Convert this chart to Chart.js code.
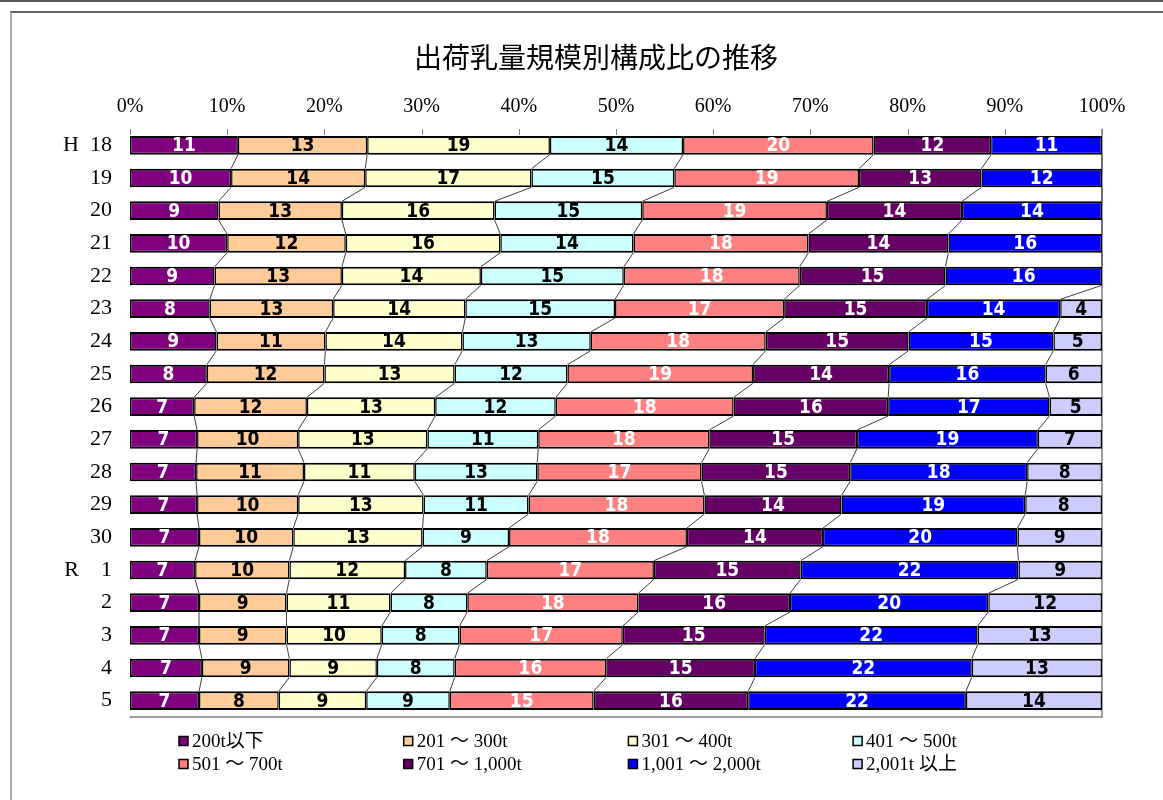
<!DOCTYPE html>
<html><head><meta charset="utf-8">
<script src="https://cdn.jsdelivr.net/npm/chart.js@4"></script>
<style>
html,body{margin:0;padding:0;background:#fff;}
#wrap{position:relative;width:1163px;height:800px;overflow:hidden;background:#fff;}
#topline{position:absolute;left:0;top:0;width:1163px;height:2px;background:#555;}
#box{position:absolute;left:10px;top:11px;width:1300px;height:900px;border-left:2px solid #aaa;border-top:2px solid #666;}
canvas{position:absolute;left:0;top:0;}
</style></head><body>
<div id="wrap"><div id="topline"></div><div id="box"></div><canvas id="c" width="1163" height="800"></canvas></div>
<script>
const chartTitle = '出荷乳量規模別構成比の推移';
const categories = ['H  18','19','20','21','22','23','24','25','26','27','28','29','30','R\u30001','2','3','4','5'];
const seriesNames = ['200t以下','201 ～ 300t','301 ～ 400t','401 ～ 500t','501 ～ 700t','701 ～ 1,000t','1,001 ～ 2,000t','2,001t 以上'];
const seriesColors = ['#800080','#FFCC99','#FFFFCC','#CCFFFF','#FF8080','#660066','#0000FF','#CCCCFF'];
const labelColors = ['#fff','#000','#000','#000','#fff','#fff','#fff','#000'];
const tickValues = [0,10,20,30,40,50,60,70,80,90,100];

const s200   = [11.1,10.4, 9.1,10.0, 8.7, 8.2, 8.9, 7.9, 6.6, 6.9, 6.8, 6.9, 7.1, 6.7, 7.1, 7.1, 7.4, 7.1];
const s300   = [13.3,13.8,12.7,12.2,13.1,12.7,11.2,12.1,11.6,10.4,11.1,10.4, 9.7, 9.7, 9.0, 9.0, 9.0, 8.2];
const s400   = [18.8,17.1,15.7,15.9,14.3,13.6,14.1,13.4,13.2,13.3,11.4,12.9,13.3,11.9,10.7, 9.8, 9.0, 9.0];
const s500   = [13.7,14.7,15.2,13.7,14.7,15.4,13.2,11.6,12.4,11.4,12.6,10.8, 8.9, 8.4, 7.9, 8.0, 8.0, 8.6];
const s700   = [19.6,19.0,19.0,18.0,18.1,17.4,18.0,19.1,18.3,17.6,16.9,18.1,18.3,17.2,17.6,16.8,15.6,14.8];
const s1000  = [12.1,12.6,13.9,14.4,15.0,14.7,14.7,14.0,15.9,15.2,15.3,14.1,14.0,15.1,15.6,14.6,15.3,15.9];
const s2000  = [11.4,12.4,14.4,15.8,16.1,13.7,14.9,16.1,16.6,18.6,18.2,18.9,20.0,22.4,20.4,21.9,22.3,22.4];
const sOver  = [null,null,null,null,null, 4.3, 5.0, 5.8, 5.4, 6.6, 7.7, 7.9, 8.7, 8.6,11.7,12.8,13.4,14.0];
const seriesData = [s200,s300,s400,s500,s700,s1000,s2000,sOver];

const serif = "'Liberation Serif','Noto Sans CJK JP',serif";

const extras = {
  id: 'extras',
  beforeDatasetsDraw(chart) {
    const ctx = chart.ctx, a = chart.chartArea, xs = chart.scales.x;
    ctx.save();
    ctx.fillStyle = '#fff';
    ctx.fillRect(a.left, a.top, a.right - a.left, a.bottom - a.top);
    ctx.strokeStyle = '#808080';
    ctx.lineWidth = 1;
    tickValues.forEach(v => {
      const px = Math.round(xs.getPixelForValue(v)) + 0.5;
      ctx.beginPath(); ctx.moveTo(px, a.top); ctx.lineTo(px, a.top + 6); ctx.stroke();
    });
    ctx.strokeStyle = '#808080';
    ctx.lineWidth = 1.5;
    ctx.beginPath();
    ctx.moveTo(a.right, a.top); ctx.lineTo(a.right, a.bottom); ctx.lineTo(a.left, a.bottom);
    ctx.stroke();
    ctx.restore();
  },
  afterDatasetsDraw(chart) {
    const ctx = chart.ctx, xs = chart.scales.x;
    const meta0 = chart.getDatasetMeta(0);
    ctx.save();
    ctx.strokeStyle = '#404040';
    ctx.lineWidth = 1;
    for (let s = 0; s < seriesData.length - 1; s++) {
      for (let i = 0; i < categories.length - 1; i++) {
        let cA = 0, cB = 0;
        for (let k = 0; k <= s; k++) { cA += seriesData[k][i] || 0; cB += seriesData[k][i + 1] || 0; }
        const eA = meta0.data[i], eB = meta0.data[i + 1];
        const yA = eA.y + eA.height / 2, yB = eB.y - eB.height / 2;
        ctx.beginPath();
        ctx.moveTo(xs.getPixelForValue(cA), yA);
        ctx.lineTo(xs.getPixelForValue(cB), yB);
        ctx.stroke();
      }
    }
    ctx.font = "bold 19px 'Liberation Sans Narrow','DejaVu Sans Condensed',sans-serif";
    ctx.textAlign = 'center';
    ctx.textBaseline = 'middle';
    chart.data.datasets.forEach((ds, d) => {
      const meta = chart.getDatasetMeta(d);
      meta.data.forEach((el, i) => {
        const v = ds.data[i];
        if (v === null || v === undefined) return;
        const p = el.getProps(['x', 'base', 'y'], true);
        ctx.fillStyle = labelColors[d];
        ctx.fillText(String(Math.round(v)), (p.x + p.base) / 2, p.y + 1);
      });
    });
    ctx.restore();
  },
  afterDraw(chart) {
    const ctx = chart.ctx;
    ctx.save();
    ctx.fillStyle = '#000';
    ctx.font = "28px 'Noto Sans CJK JP',sans-serif";
    ctx.textAlign = 'center';
    ctx.textBaseline = 'middle';
    ctx.fillText(chartTitle, 596, 57);
    ctx.font = '19px ' + serif;
    ctx.textAlign = 'left';
    seriesNames.forEach((name, i) => {
      const col = i % 4, row = Math.floor(i / 4);
      const sx = 179 + col * 224.7, sy = 741 + row * 23;
      ctx.fillStyle = seriesColors[i];
      ctx.fillRect(sx, sy - 4.5, 9, 9);
      ctx.strokeStyle = '#000';
      ctx.lineWidth = 1.5;
      ctx.strokeRect(sx, sy - 4.5, 9, 9);
      ctx.fillStyle = '#000';
      ctx.fillText(name, sx + 13, sy + 1);
    });
    ctx.restore();
  }
};

new Chart(document.getElementById('c'), {
  type: 'bar',
  data: {
    labels: categories,
    datasets: seriesData.map((arr, i) => ({
      label: seriesNames[i],
      data: arr,
      backgroundColor: seriesColors[i],
      borderColor: '#000',
      borderWidth: {top: 2, bottom: 2, left: 1.5, right: 1.5},
      borderSkipped: false,
      barPercentage: 0.57,
      categoryPercentage: 1.0
    }))
  },
  options: {
    indexAxis: 'y',
    responsive: false,
    animation: false,
    devicePixelRatio: 1,
    layout: {padding: {top: 0, left: 0, right: 61, bottom: 83}},
    plugins: {legend: {display: false}, title: {display: false}, tooltip: {enabled: false}},
    scales: {
      x: {
        position: 'top', stacked: true, min: 0, max: 100,
        ticks: {stepSize: 10, callback: v => v + '%', color: '#000', font: {family: serif, size: 20}, padding: 10, maxRotation: 0},
        grid: {display: false, drawTicks: false, tickLength: 0},
        border: {display: true, color: '#000', width: 1},
        afterFit: s => { s.height = 129; }
      },
      y: {
        stacked: true,
        ticks: {color: '#000', font: {family: serif, size: 22}, padding: 18},
        grid: {display: false, drawTicks: false, tickLength: 0},
        border: {display: true, color: '#000', width: 1},
        afterFit: s => { s.width = 130; }
      }
    }
  },
  plugins: [extras]
});
</script>
</body></html>
